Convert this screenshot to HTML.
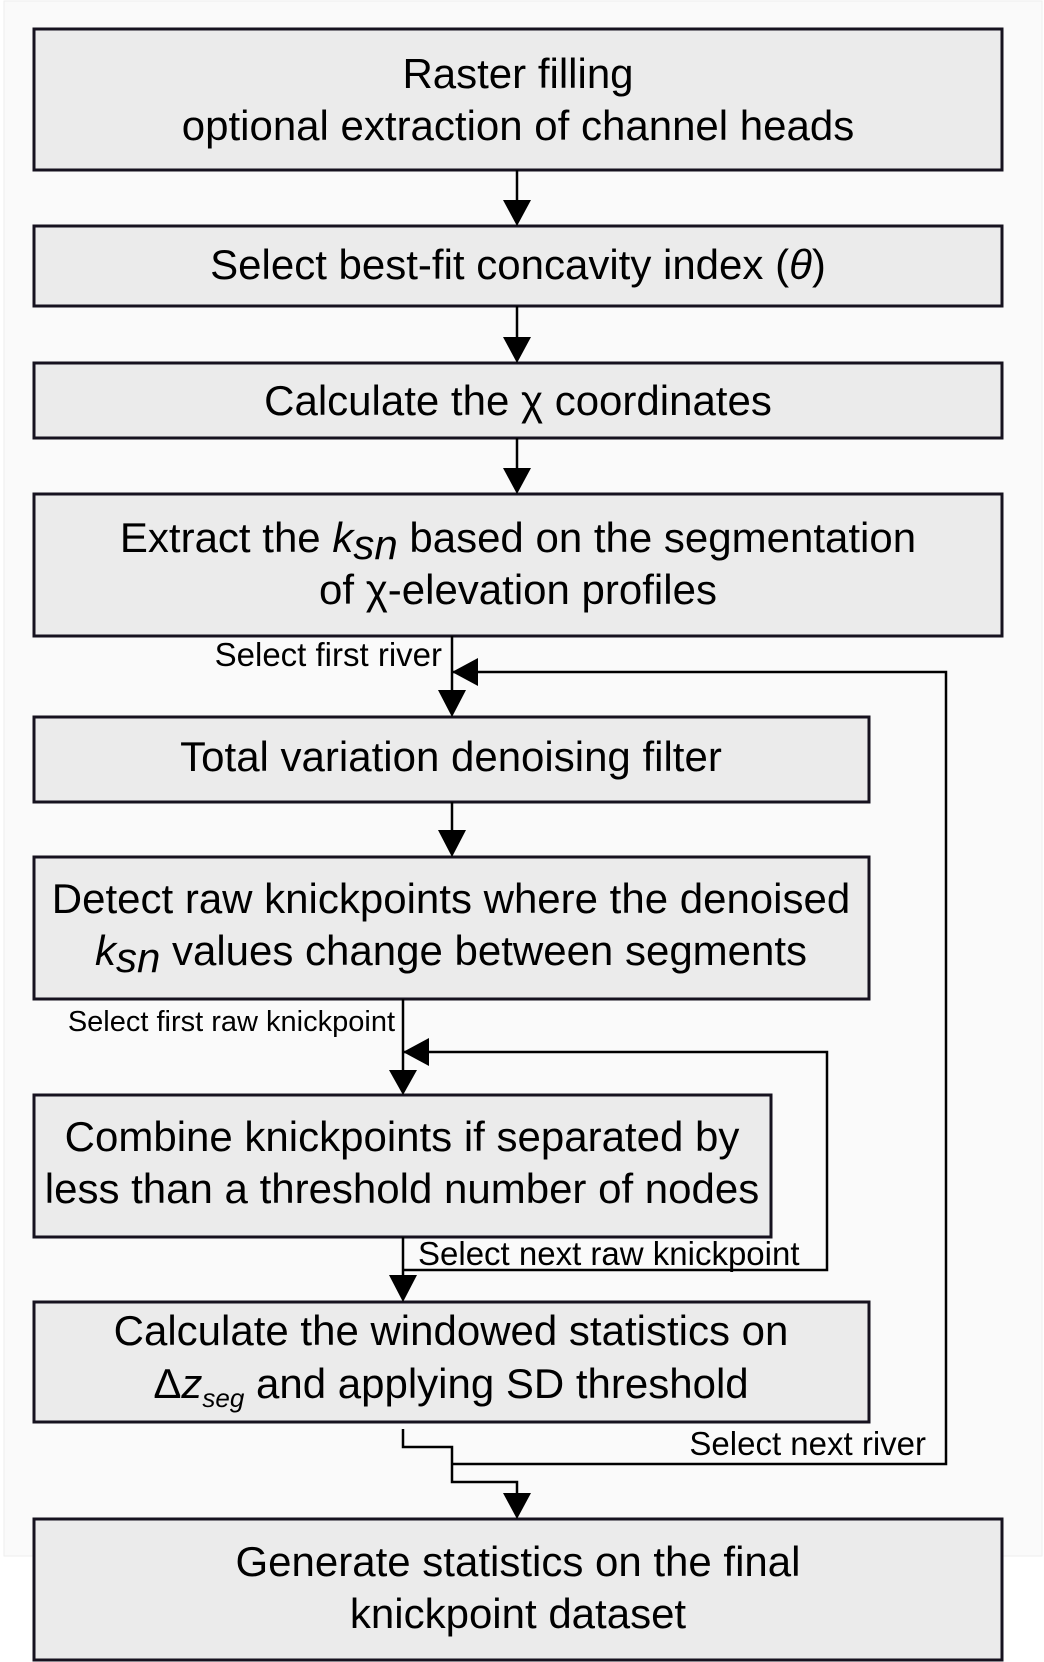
<!DOCTYPE html>
<html><head><style>body{margin:0;background:#fff}svg{display:block}text{font-family:"Liberation Sans",sans-serif;fill:#000}</style></head><body>
<svg width="1044" height="1662" viewBox="0 0 1044 1662" xmlns="http://www.w3.org/2000/svg">
<rect x="4" y="1" width="1038" height="1555" fill="#fafafa" stroke="#eee"/>
<g fill="#ebebeb" stroke="#16121f" stroke-width="3">
<rect x="34" y="29" width="968" height="141"/>
<rect x="34" y="226" width="968" height="80"/>
<rect x="34" y="363" width="968" height="75"/>
<rect x="34" y="494" width="968" height="142"/>
<rect x="34" y="717" width="835" height="85"/>
<rect x="34" y="857" width="835" height="142"/>
<rect x="34" y="1095" width="737" height="142"/>
<rect x="34" y="1302" width="835" height="120"/>
<rect x="34" y="1519" width="968" height="141"/>
</g>
<g stroke="#000" stroke-width="2.5" fill="none">
<path d="M517 170V200M517 306V337M517 438V468"/>
<path d="M452 636V690M452 802V830"/>
<path d="M403 999V1070M403 1237V1275"/>
<path d="M452 672H946V1464H452"/>
<path d="M403 1052H827V1270H403"/>
<path d="M403 1429V1447H452V1482H517V1495"/>
</g>
<g fill="#000">
<path d="M503 200H531L517 226Z"/><path d="M503 337H531L517 363Z"/><path d="M503 468H531L517 494Z"/>
<path d="M438 690H466L452 717Z"/><path d="M438 830H466L452 857Z"/>
<path d="M389 1070H417L403 1095Z"/><path d="M389 1275H417L403 1302Z"/>
<path d="M503 1493H531L517 1519Z"/>
<path d="M452 672L478 658V686Z"/><path d="M403 1052L429 1038V1066Z"/>
</g>
<g font-size="42" text-anchor="middle">
<text x="518" y="88">Raster filling</text>
<text x="518" y="140">optional extraction of channel heads</text>
<text x="518" y="279">Select best-fit concavity index (<tspan font-style="italic">θ</tspan>)</text>
<text x="518" y="415">Calculate the χ coordinates</text>
<text x="518" y="552">Extract the <tspan font-style="italic">k<tspan baseline-shift="-7">sn</tspan></tspan> based on the segmentation</text>
<text x="518" y="604">of χ-elevation profiles</text>
<text x="451" y="771">Total variation  denoising filter</text>
<text x="451" y="913">Detect raw knickpoints where the denoised</text>
<text x="451" y="965"><tspan font-style="italic">k<tspan baseline-shift="-7">sn</tspan></tspan> values change between segments</text>
<text x="402" y="1151">Combine knickpoints if separated by</text>
<text x="402" y="1203">less than a threshold number of nodes</text>
<text x="451" y="1345">Calculate the windowed statistics on</text>
<text x="451" y="1398">Δ<tspan font-style="italic">z<tspan font-size="26" baseline-shift="-9">seg</tspan></tspan> and applying SD threshold</text>
<text x="518" y="1576">Generate statistics on the final</text>
<text x="518" y="1628">knickpoint dataset</text>
</g>
<g font-size="33">
<text x="442" y="666" text-anchor="end">Select first river</text>
<text x="395" y="1031" text-anchor="end" font-size="29">Select first raw knickpoint</text>
<text x="418" y="1265">Select next raw knickpoint</text>
<text x="926" y="1455" text-anchor="end">Select next river</text>
</g>
</svg>
</body></html>
